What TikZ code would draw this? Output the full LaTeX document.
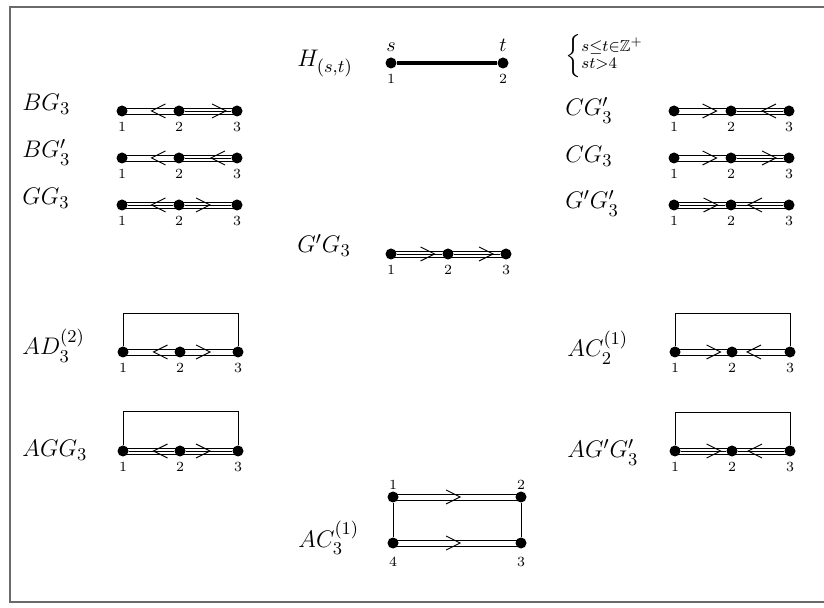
\documentclass[tikz,border=0pt]{standalone}
\usepackage{amssymb}
\usetikzlibrary{calc}
\definecolor{framegray}{HTML}{6A6A6A}
\tikzset{
  vtx/.style={circle,fill=black,inner sep=0pt,minimum size=5.5pt},
  num/.style={font=\fontsize{7}{8}\selectfont,inner sep=0.5pt},
  lett/.style={font=\normalsize,inner sep=0.5pt},
  dname/.style={anchor=base west,inner sep=0pt,font=\fontsize{13}{16}\selectfont},
  sgl/.style={line width=0.4pt},
  hi/.style={sgl,transform canvas={yshift=1.5pt}},
  lo/.style={sgl,transform canvas={yshift=-1.5pt}},
  chev/.style={line width=0.45pt,line join=miter},
  frame/.style={draw=framegray,line width=1pt}
}
\begin{document}
\begin{tikzpicture}[x=0.5pt,y=-0.5pt,label distance=2pt]
\useasboundingbox (0,0) rectangle (824,608);
\draw[frame] (830,7) -- (10,7) -- (10,602) -- (830,602);

% H_(s,t)
\node[dname] (lh) at (297,67) {$H_{(s,t)}$};
\node[vtx,label={[lett]above:$s$},label={[num]below:1}] (h1) at (391,63) {};
\node[vtx,label={[lett]above:$t$},label={[num]below:2}] (h2) at (503,63) {};
\node[anchor=west,inner sep=0pt,font=\large] (cond) at (565,56)
  {$\def\arraystretch{0.62}\left\{\begin{array}{@{}l@{}}\scriptstyle s\le t\in\mathbb{Z}^+\\ \scriptstyle st>4\end{array}\right.$};
\draw[line width=2pt] (h1) -- (h2);

% left column
\node[dname] (lbg) at (22,111) {$BG_3$};
\node[vtx,label={[num]below:1}] (bg1) at (122,111) {};
\node[vtx,label={[num]below:2}] (bg2) at (179,111) {};
\node[vtx,label={[num]below:3}] (bg3) at (237,111) {};
\draw[hi] (bg1.center) -- (bg2.center);
\draw[lo] (bg1.center) -- (bg2.center);
\draw[hi] (bg2.center) -- (bg3.center);
\draw[sgl] (bg2) -- (bg3);
\draw[lo] (bg2.center) -- (bg3.center);
\draw[chev,shift={($(bg1)!.5!(bg2)$)}] (15,-7) -- (1,0) -- (15,7);
\draw[chev,shift={($(bg2)!.5!(bg3)$)}] (4,-7) -- (18,0) -- (4,7);

\node[dname] (lbp) at (22,158) {$BG'_3$};
\node[vtx,label={[num]below:1}] (bp1) at (122,158) {};
\node[vtx,label={[num]below:2}] (bp2) at (179,158) {};
\node[vtx,label={[num]below:3}] (bp3) at (237,158) {};
\draw[hi] (bp1.center) -- (bp2.center);
\draw[lo] (bp1.center) -- (bp2.center);
\draw[hi] (bp2.center) -- (bp3.center);
\draw[sgl] (bp2) -- (bp3);
\draw[lo] (bp2.center) -- (bp3.center);
\draw[chev,shift={($(bp1)!.5!(bp2)$)}] (15,-7) -- (1,0) -- (15,7);
\draw[chev,shift={($(bp2)!.5!(bp3)$)}] (17,-7) -- (3,0) -- (17,7);

\node[dname] (lgg) at (22,205) {$GG_3$};
\node[vtx,label={[num]below:1}] (gg1) at (122,205) {};
\node[vtx,label={[num]below:2}] (gg2) at (179,205) {};
\node[vtx,label={[num]below:3}] (gg3) at (237,205) {};
\draw[hi] (gg1.center) -- (gg2.center);
\draw[sgl] (gg1) -- (gg2);
\draw[lo] (gg1.center) -- (gg2.center);
\draw[hi] (gg2.center) -- (gg3.center);
\draw[sgl] (gg2) -- (gg3);
\draw[lo] (gg2.center) -- (gg3.center);
\draw[chev,shift={($(gg1)!.5!(gg2)$)}] (15,-7) -- (1,0) -- (15,7);
\draw[chev,shift={($(gg2)!.5!(gg3)$)}] (-12,-7) -- (2,0) -- (-12,7);

% right column
\node[dname] (lcp) at (565,116) {$CG'_3$};
\node[vtx,label={[num]below:1}] (cp1) at (674,111) {};
\node[vtx,label={[num]below:2}] (cp2) at (731,111) {};
\node[vtx,label={[num]below:3}] (cp3) at (789,111) {};
\draw[hi] (cp1.center) -- (cp2.center);
\draw[lo] (cp1.center) -- (cp2.center);
\draw[hi] (cp2.center) -- (cp3.center);
\draw[sgl] (cp2) -- (cp3);
\draw[lo] (cp2.center) -- (cp3.center);
\draw[chev,shift={($(cp1)!.5!(cp2)$)}] (0,-7) -- (14,0) -- (0,7);
\draw[chev,shift={($(cp2)!.5!(cp3)$)}] (16,-7) -- (2,0) -- (16,7);

\node[dname] (lcg) at (565,163) {$CG_3$};
\node[vtx,label={[num]below:1}] (cg1) at (674,158) {};
\node[vtx,label={[num]below:2}] (cg2) at (731,158) {};
\node[vtx,label={[num]below:3}] (cg3) at (789,158) {};
\draw[hi] (cg1.center) -- (cg2.center);
\draw[lo] (cg1.center) -- (cg2.center);
\draw[hi] (cg2.center) -- (cg3.center);
\draw[sgl] (cg2) -- (cg3);
\draw[lo] (cg2.center) -- (cg3.center);
\draw[chev,shift={($(cg1)!.5!(cg2)$)}] (0,-7) -- (14,0) -- (0,7);
\draw[chev,shift={($(cg2)!.5!(cg3)$)}] (2,-7) -- (16,0) -- (2,7);

\node[dname] (lpp) at (565,209) {$G'G'_3$};
\node[vtx,label={[num]below:1}] (pp1) at (674,205) {};
\node[vtx,label={[num]below:2}] (pp2) at (731,205) {};
\node[vtx,label={[num]below:3}] (pp3) at (789,205) {};
\draw[hi] (pp1.center) -- (pp2.center);
\draw[sgl] (pp1) -- (pp2);
\draw[lo] (pp1.center) -- (pp2.center);
\draw[hi] (pp2.center) -- (pp3.center);
\draw[sgl] (pp2) -- (pp3);
\draw[lo] (pp2.center) -- (pp3.center);
\draw[chev,shift={($(pp1)!.5!(pp2)$)}] (1,-7) -- (15,0) -- (1,7);
\draw[chev,shift={($(pp2)!.5!(pp3)$)}] (2,-7) -- (-12,0) -- (2,7);

% middle
\node[dname] (lpg) at (297,253) {$G'G_3$};
\node[vtx,label={[num]below:1}] (pg1) at (391,254) {};
\node[vtx,label={[num]below:2}] (pg2) at (448,254) {};
\node[vtx,label={[num]below:3}] (pg3) at (506,254) {};
\draw[hi] (pg1.center) -- (pg2.center);
\draw[sgl] (pg1) -- (pg2);
\draw[lo] (pg1.center) -- (pg2.center);
\draw[hi] (pg2.center) -- (pg3.center);
\draw[sgl] (pg2) -- (pg3);
\draw[lo] (pg2.center) -- (pg3.center);
\draw[chev,shift={($(pg1)!.5!(pg2)$)}] (1,-7) -- (15,0) -- (1,7);
\draw[chev,shift={($(pg2)!.5!(pg3)$)}] (2,-7) -- (16,0) -- (2,7);

% affine ones
\node[dname] (lad) at (22,355) {$AD_3^{(2)}$};
\node[vtx,label={[num]below:1}] (ad1) at (123,352) {};
\node[vtx,label={[num]below:2}] (ad2) at (180,352) {};
\node[vtx,label={[num]below:3}] (ad3) at (238,352) {};
\draw[sgl] (ad1) -- ++(0,-39) -| (ad3);
\draw[hi] (ad1.center) -- (ad2.center);
\draw[lo] (ad1.center) -- (ad2.center);
\draw[hi] (ad2.center) -- (ad3.center);
\draw[lo] (ad2.center) -- (ad3.center);
\draw[chev,shift={($(ad1)!.5!(ad2)$)}] (16,-7) -- (2,0) -- (16,7);
\draw[chev,shift={($(ad2)!.5!(ad3)$)}] (-13,-7) -- (1,0) -- (-13,7);

\node[dname] (lag) at (22,457) {$AGG_3$};
\node[vtx,label={[num]below:1}] (ag1) at (123,451) {};
\node[vtx,label={[num]below:2}] (ag2) at (180,451) {};
\node[vtx,label={[num]below:3}] (ag3) at (238,451) {};
\draw[sgl] (ag1) -- ++(0,-40) -| (ag3);
\draw[hi] (ag1.center) -- (ag2.center);
\draw[sgl] (ag1) -- (ag2);
\draw[lo] (ag1.center) -- (ag2.center);
\draw[hi] (ag2.center) -- (ag3.center);
\draw[sgl] (ag2) -- (ag3);
\draw[lo] (ag2.center) -- (ag3.center);
\draw[chev,shift={($(ag1)!.5!(ag2)$)}] (16,-7) -- (2,0) -- (16,7);
\draw[chev,shift={($(ag2)!.5!(ag3)$)}] (-13,-7) -- (1,0) -- (-13,7);

\node[dname] (lac) at (567,357) {$AC_2^{(1)}$};
\node[vtx,label={[num]below:1}] (ac1) at (675,352) {};
\node[vtx,label={[num]below:2}] (ac2) at (732,352) {};
\node[vtx,label={[num]below:3}] (ac3) at (790,352) {};
\draw[sgl] (ac1) -- ++(0,-39) -| (ac3);
\draw[hi] (ac1.center) -- (ac2.center);
\draw[lo] (ac1.center) -- (ac2.center);
\draw[hi] (ac2.center) -- (ac3.center);
\draw[lo] (ac2.center) -- (ac3.center);
\draw[chev,shift={($(ac1)!.5!(ac2)$)}] (3,-7) -- (17,0) -- (3,7);
\draw[chev,shift={($(ac2)!.5!(ac3)$)}] (0,-7) -- (-14,0) -- (0,7);

\node[dname] (lap) at (567,458) {$AG'G'_3$};
\node[vtx,label={[num]below:1}] (ap1) at (675,451) {};
\node[vtx,label={[num]below:2}] (ap2) at (732,451) {};
\node[vtx,label={[num]below:3}] (ap3) at (790,451) {};
\draw[sgl] (ap1) -- ++(0,-39) -| (ap3);
\draw[hi] (ap1.center) -- (ap2.center);
\draw[sgl] (ap1) -- (ap2);
\draw[lo] (ap1.center) -- (ap2.center);
\draw[hi] (ap2.center) -- (ap3.center);
\draw[sgl] (ap2) -- (ap3);
\draw[lo] (ap2.center) -- (ap3.center);
\draw[chev,shift={($(ap1)!.5!(ap2)$)}] (3,-7) -- (17,0) -- (3,7);
\draw[chev,shift={($(ap2)!.5!(ap3)$)}] (1,-7) -- (-13,0) -- (1,7);

\node[dname] (lcc) at (298,547) {$AC_3^{(1)}$};
\node[vtx,label={[num,yshift=-2pt]above:1}] (cc1) at (393,497) {};
\node[vtx,label={[num,yshift=-2pt]above:2}] (cc2) at (521,497) {};
\node[vtx,label={[num,yshift=-1.5pt]below:3}] (cc3) at (521,543) {};
\node[vtx,label={[num,yshift=-1.5pt]below:4}] (cc4) at (393,543) {};
\draw[sgl] (cc1) -- (cc4);
\draw[sgl] (cc2) -- (cc3);
\draw[hi] (cc1.center) -- (cc2.center);
\draw[lo] (cc1.center) -- (cc2.center);
\draw[hi] (cc4.center) -- (cc3.center);
\draw[lo] (cc4.center) -- (cc3.center);
\draw[chev,shift={($(cc1)!.5!(cc2)$)}] (-11,-7) -- (3,0) -- (-11,7);
\draw[chev,shift={($(cc4)!.5!(cc3)$)}] (-11,-7) -- (3,0) -- (-11,7);
\end{tikzpicture}
\end{document}
